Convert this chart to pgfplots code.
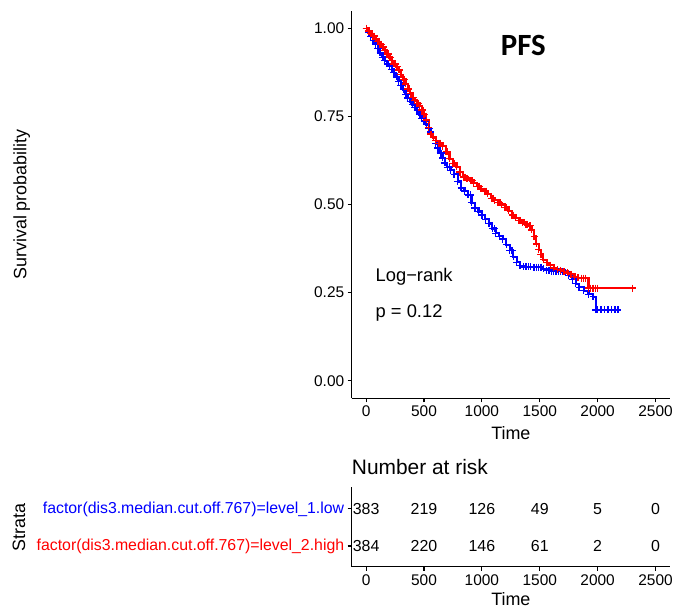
\documentclass[border=0pt]{standalone}
\usepackage{fontspec}
\setmainfont{Liberation Sans}
\newfontfamily\carlito{Carlito}
\usepackage{pgfplots}
\usepackage{pgfplotstable}
\pgfplotsset{compat=1.18}
\definecolor{kmred}{RGB}{255,0,0}
\definecolor{kmblue}{RGB}{0,0,255}

\pgfplotstableread{
t s
0 1.000
20 0.988
40 0.977
60 0.966
80 0.955
100 0.942
120 0.930
140 0.918
160 0.908
180 0.899
200 0.892
220 0.884
240 0.874
260 0.862
280 0.850
300 0.838
320 0.826
340 0.813
360 0.802
380 0.792
400 0.784
420 0.775
440 0.766
460 0.755
480 0.745
500 0.737
520 0.727
540 0.716
560 0.706
580 0.690
600 0.673
620 0.660
640 0.646
660 0.632
680 0.618
700 0.606
730 0.597
760 0.586
790 0.565
820 0.547
850 0.538
880 0.527
910 0.505
940 0.490
970 0.480
1000 0.470
1030 0.458
1060 0.446
1090 0.432
1120 0.418
1150 0.410
1180 0.402
1210 0.386
1240 0.370
1270 0.352
1300 0.336
1330 0.326
1360 0.323
1450 0.322
1530 0.318
1560 0.314
1600 0.311
1680 0.309
1720 0.307
1750 0.298
1780 0.288
1810 0.275
1840 0.265
1880 0.255
1920 0.245
1960 0.238
1985 0.201
2175 0.201
}\bluekm

\pgfplotstableread{
t s
30 0.988
70 0.966
110 0.942
150 0.918
190 0.899
230 0.884
270 0.862
310 0.838
350 0.813
390 0.792
430 0.775
470 0.755
510 0.737
550 0.716
650 0.646
720 0.606
900 0.527
1110 0.432
1260 0.370
1380 0.323
1400 0.323
1420 0.323
1470 0.322
1490 0.322
1510 0.322
1580 0.314
1620 0.311
1640 0.311
1660 0.311
1700 0.309
2000 0.201
2030 0.201
2060 0.201
2090 0.201
2120 0.201
2150 0.201
}\bluecens

\pgfplotstableread{
t s
0 1.000
20 0.992
40 0.985
60 0.978
80 0.970
100 0.962
120 0.955
140 0.947
160 0.937
180 0.927
200 0.917
220 0.908
240 0.899
260 0.891
280 0.882
300 0.868
320 0.855
340 0.842
360 0.828
380 0.815
400 0.803
420 0.795
440 0.787
460 0.779
480 0.768
500 0.756
520 0.740
540 0.718
560 0.700
580 0.690
600 0.681
630 0.674
660 0.665
690 0.650
720 0.630
750 0.617
780 0.607
810 0.592
840 0.578
870 0.574
900 0.568
930 0.560
960 0.552
990 0.545
1020 0.538
1050 0.530
1080 0.518
1110 0.512
1140 0.505
1170 0.500
1200 0.492
1230 0.482
1260 0.470
1290 0.462
1320 0.455
1350 0.448
1380 0.444
1410 0.440
1430 0.428
1450 0.410
1470 0.388
1490 0.372
1510 0.358
1530 0.343
1560 0.335
1590 0.328
1620 0.320
1650 0.316
1680 0.314
1710 0.310
1740 0.306
1770 0.302
1800 0.295
1830 0.292
1860 0.291
1920 0.263
2300 0.263
}\redkm

\pgfplotstableread{
t s
30 0.992
50 0.985
70 0.978
90 0.970
110 0.962
130 0.955
150 0.947
170 0.937
190 0.927
210 0.917
230 0.908
250 0.899
270 0.891
290 0.882
330 0.855
370 0.828
410 0.803
450 0.787
490 0.768
645 0.674
705 0.650
765 0.617
855 0.578
915 0.568
975 0.552
1035 0.538
1095 0.518
1155 0.505
1215 0.492
1275 0.470
1335 0.455
1365 0.448
1395 0.444
1420 0.440
1875 0.291
1895 0.291
1940 0.263
1960 0.263
1980 0.263
2000 0.263
}\redcens

\pgfplotstableread{
t y n
0 2 383
500 2 219
1000 2 126
1500 2 49
2000 2 5
2500 2 0
0 1 384
500 1 220
1000 1 146
1500 1 61
2000 1 2
2500 1 0
}\risktab

\begin{document}
\begin{tikzpicture}
\path[use as bounding box] (0bp,0bp) rectangle (677bp,-609bp);
\pgfplotsset{
  kmbase/.style={
    scale only axis, width=318.3bp,
    xmin=-125, xmax=2625,
    axis lines*=left,
    axis line style={line width=1.2bp, -},
    tick align=outside, major tick length=4bp,
    tick style={line width=1.1bp, black},
    xtick={0,500,1000,1500,2000,2500},
    xticklabels={0,500,1000,1500,2000,2500},
    ticklabel style={font=\fontsize{15.5}{18}\selectfont},
  }
}
\begin{axis}[kmbase,
  at={(351.7bp,-398.3bp)}, anchor=south west,
  height=387.6bp,
  ymin=-0.05, ymax=1.05,
  ytick={0,0.25,0.5,0.75,1},
  yticklabels={0.00,0.25,0.50,0.75,1.00},
  xlabel={Time}, ylabel={Survival probability},
  every axis x label/.style={at={(axis description cs:0.5,-0.089)},anchor=center,font=\fontsize{18}{21}\selectfont},
  every axis y label/.style={at={(axis description cs:-1.037,0.5)},anchor=center,rotate=90,font=\fontsize{18}{21}\selectfont},
  clip=false,
]
\addplot[const plot, kmblue, line width=2.2bp, mark=+, mark size=3.5bp, mark options={line width=1.3bp, solid}] table[x=t,y=s] {\bluekm};
\addplot[only marks, kmblue, mark=+, mark size=3.5bp, mark options={line width=1.3bp}] table[x=t,y=s] {\bluecens};
\addplot[const plot, kmred, line width=2.2bp, mark=+, mark size=3.5bp, mark options={line width=1.3bp, solid}] table[x=t,y=s] {\redkm};
\addplot[only marks, kmred, mark=+, mark size=3.5bp, mark options={line width=1.3bp}] table[x=t,y=s] {\redcens};
\node[anchor=base west, font=\fontsize{18.4}{21}\selectfont] at (axis cs:52,0.281) {Log−rank};
\node[anchor=base west, font=\fontsize{18.4}{21}\selectfont] at (axis cs:52,0.180) {p = 0.12};
\node[anchor=base, font=\carlito\bfseries\fontsize{31}{36}\selectfont] at (axis cs:1358,0.922) {PFS};
\end{axis}

\begin{axis}[kmbase,
  at={(351.7bp,-566.7bp)}, anchor=south west,
  height=80bp,
  ymin=0.44, ymax=2.6,
  ytick={1,2},
  yticklabels={{\color{kmred}\fontsize{15.9}{19}\selectfont factor(dis3.median.cut.off.767)=level\_2.high},{\color{kmblue}\fontsize{15.9}{19}\selectfont factor(dis3.median.cut.off.767)=level\_1.low}},
  xlabel={Time}, ylabel={Strata},
  every axis x label/.style={at={(axis description cs:0.5,-0.40)},anchor=center,font=\fontsize{18}{21}\selectfont},
  every axis y label/.style={at={(axis description cs:-1.045,0.49)},anchor=center,rotate=90,font=\fontsize{18}{21}\selectfont},
  title={Number at risk},
  every axis title/.style={at={(axis description cs:0,1.25)},anchor=west,inner sep=0pt,font=\fontsize{21}{24}\selectfont},
  clip=false,
]
\addplot[draw=none, mark=none, nodes near coords, point meta=explicit symbolic,
  nodes near coords style={anchor=center, font=\fontsize{16}{19}\selectfont, text=black}]
  table[x=t,y=y,meta=n] {\risktab};
\end{axis}
\end{tikzpicture}
\end{document}
